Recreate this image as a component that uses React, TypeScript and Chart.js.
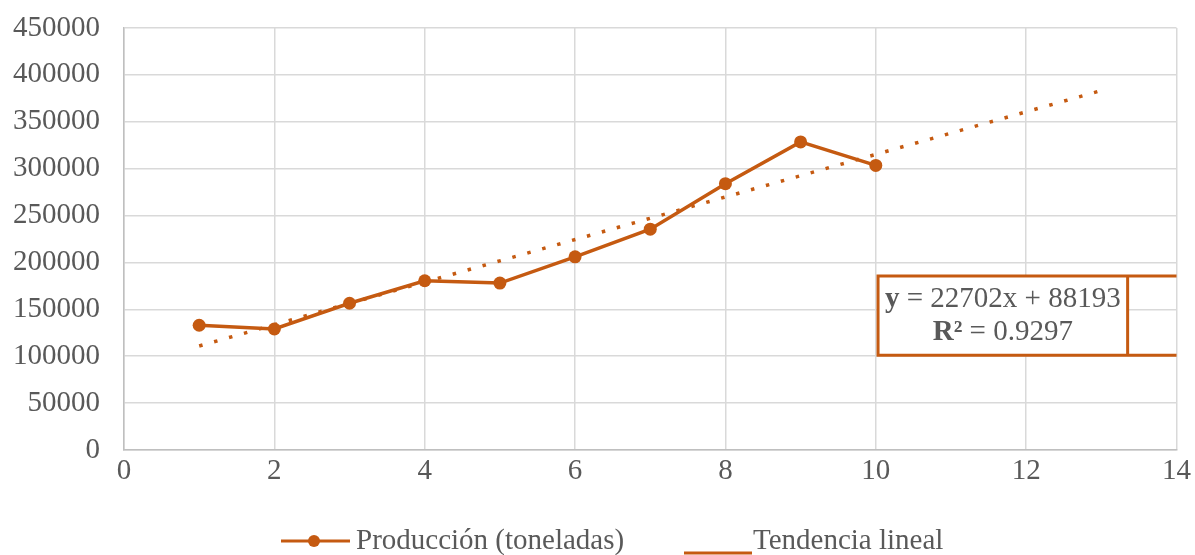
import React, { useEffect, useRef } from "react";
import { Chart, registerables } from "chart.js";

Chart.register(...registerables);

const years: number[] = [1, 2, 3, 4, 5, 6, 7, 8, 9, 10];
const production: number[] = [133000, 129000, 156500, 180500, 178000, 206000, 235500, 284000, 328500, 303500];
const trendSlope = 22702;
const trendIntercept = 88193;
const trendR2 = "0.9297";
const trendX: number[] = [1, 13];
const yTicks: number[] = [0, 50000, 100000, 150000, 200000, 250000, 300000, 350000, 400000, 450000];
const xTicks: number[] = [0, 2, 4, 6, 8, 10, 12, 14];
const seriesLabel = "Producción (toneladas)";
const trendLabel = "Tendencia lineal";

const ORANGE = "#C55A11";
const TEXT = "#595959";
const FONT = "'Liberation Serif', 'Times New Roman', serif";
const FS = 29;

const overlayPlugin = {
  id: "overlay",
  afterDraw(chart: any) {
    const ctx = chart.ctx as CanvasRenderingContext2D;
    const xs = chart.scales.x;
    const ys = chart.scales.y;
    // equation box
    const left = xs.getPixelForValue(10.03);
    const right = xs.right;
    const top = ys.getPixelForValue(185500);
    const bottom = ys.getPixelForValue(101000);
    const inner = xs.getPixelForValue(13.35);
    ctx.save();
    ctx.fillStyle = "#ffffff";
    ctx.fillRect(left, top, inner - left, bottom - top);
    ctx.strokeStyle = ORANGE;
    ctx.lineWidth = 3;
    ctx.beginPath();
    ctx.moveTo(right, top);
    ctx.lineTo(left, top);
    ctx.lineTo(left, bottom);
    ctx.lineTo(right, bottom);
    ctx.moveTo(inner, top);
    ctx.lineTo(inner, bottom);
    ctx.stroke();
    ctx.fillStyle = TEXT;
    ctx.textBaseline = "middle";
    const cx = (left + inner) / 2;
    const line1y = top + (bottom - top) * 0.3;
    const line2y = top + (bottom - top) * 0.71;
    ctx.font = `bold ${FS}px ${FONT}`;
    const yW = ctx.measureText("y").width;
    ctx.font = `${FS}px ${FONT}`;
    const rest1 = ` = ${trendSlope}x + ${trendIntercept}`;
    const r1W = ctx.measureText(rest1).width;
    let sx = cx - (yW + r1W) / 2;
    ctx.textAlign = "left";
    ctx.font = `bold ${FS}px ${FONT}`;
    ctx.fillText("y", sx, line1y);
    ctx.font = `${FS}px ${FONT}`;
    ctx.fillText(rest1, sx + yW, line1y);
    ctx.font = `bold ${FS}px ${FONT}`;
    const rW = ctx.measureText("R²").width;
    ctx.font = `${FS}px ${FONT}`;
    const rest2 = ` = ${trendR2}`;
    const r2W = ctx.measureText(rest2).width;
    sx = cx - (rW + r2W) / 2;
    ctx.font = `bold ${FS}px ${FONT}`;
    ctx.fillText("R²", sx, line2y);
    ctx.font = `${FS}px ${FONT}`;
    ctx.fillText(rest2, sx + rW, line2y);

    // legend
    const ly = 541;
    ctx.strokeStyle = ORANGE;
    ctx.lineWidth = 3;
    ctx.beginPath();
    ctx.moveTo(281, ly);
    ctx.lineTo(350, ly);
    ctx.stroke();
    ctx.fillStyle = ORANGE;
    ctx.beginPath();
    ctx.arc(314, ly, 6, 0, Math.PI * 2);
    ctx.fill();
    ctx.beginPath();
    ctx.moveTo(684, 553);
    ctx.lineTo(752, 553);
    ctx.stroke();
    ctx.fillStyle = TEXT;
    ctx.font = `${FS}px ${FONT}`;
    ctx.textAlign = "left";
    ctx.textBaseline = "middle";
    ctx.fillText(seriesLabel, 356, ly);
    ctx.fillText(trendLabel, 753, ly);
    ctx.restore();
  },
};

export default function App() {
  const ref = useRef<HTMLCanvasElement | null>(null);
  useEffect(() => {
    document.body.style.margin = "0";
    const canvas = ref.current;
    if (!canvas) return;
    const chart = new Chart(canvas, {
      type: "scatter",
      data: {
        datasets: [
          {
            label: seriesLabel,
            data: years.map((x, i) => ({ x, y: production[i] })),
            showLine: true,
            borderColor: ORANGE,
            backgroundColor: ORANGE,
            borderWidth: 3.5,
            pointRadius: 6.5,
            pointHoverRadius: 6.5,
            pointBorderWidth: 0,
            order: 1,
          },
          {
            label: trendLabel,
            data: trendX.map((x) => ({ x, y: trendSlope * x + trendIntercept })),
            showLine: true,
            borderColor: ORANGE,
            borderWidth: 3.5,
            borderDash: [3.5, 12],
            pointRadius: 0,
            order: 2,
          },
        ],
      },
      options: {
        animation: false,
        responsive: false,
        maintainAspectRatio: false,
        layout: { padding: { top: 28, right: 15, left: 0, bottom: 0 } },
        plugins: { legend: { display: false }, tooltip: { enabled: false } },
        scales: {
          x: {
            type: "linear",
            min: 0,
            max: 14,
            afterBuildTicks: (s: any) => {
              s.ticks = xTicks.map((v) => ({ value: v }));
            },
            afterFit: (s: any) => {
              s.height = 105;
            },
            grid: { color: "#D9D9D9", lineWidth: 1.5, drawTicks: false },
            border: { color: "#BFBFBF", width: 1.5 },
            ticks: { color: TEXT, font: { family: FONT, size: FS }, padding: 4 },
          },
          y: {
            type: "linear",
            min: 0,
            max: 450000,
            afterBuildTicks: (s: any) => {
              s.ticks = yTicks.map((v) => ({ value: v }));
            },
            afterFit: (s: any) => {
              s.width = 124;
              s.paddingTop = 0;
              s.paddingBottom = 0;
            },
            grid: { color: "#D9D9D9", lineWidth: 1.5, drawTicks: false },
            border: { color: "#BFBFBF", width: 1.5 },
            ticks: {
              color: TEXT,
              font: { family: FONT, size: FS },
              padding: 24,
              callback: (v: any) => String(v),
            },
          },
        },
      },
      plugins: [overlayPlugin],
    } as any);
    return () => chart.destroy();
  }, []);
  return <canvas ref={ref} width={1195} height={555} style={{ display: "block" }} />;
}
